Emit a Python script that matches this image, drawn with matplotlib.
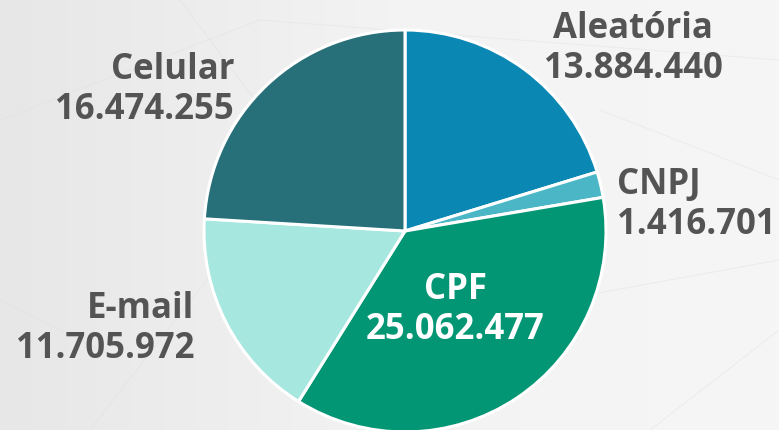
import numpy as np
import matplotlib.pyplot as plt
from matplotlib.colors import LinearSegmentedColormap

# data
labels = ['Aleatória', 'CNPJ', 'CPF', 'E-mail', 'Celular']
values = [13884440, 1416701, 25062477, 11705972, 16474255]
colors = ['#0a87b3', '#4bb7c6', '#039674', '#a6e7e0', '#276f79']

def fmt(v):
    return f"{v:,}".replace(',', '.')

plt.rcParams['font.family'] = ['Open Sans', 'DejaVu Sans']

W, H = 779, 430
fig = plt.figure(figsize=(W / 100, H / 100), dpi=100)

# background gradient
bg = fig.add_axes([0, 0, 1, 1])
grad = np.linspace(0, 1, 256).reshape(1, -1)
bg.imshow(grad, aspect='auto',
          cmap=LinearSegmentedColormap.from_list('bg', ['#e7e7e7', '#f3f3f3', '#f6f6f6']),
          extent=[0, W, H, 0])
# faint decorative lines
for (x0, y0, x1, y1) in [(0, 120, 260, 20), (260, 20, 779, 60), (90, 430, 230, 250),
                         (560, 300, 779, 260), (600, 110, 779, 180), (0, 300, 120, 360),
                         (650, 430, 779, 330), (180, 0, 300, 160)]:
    bg.plot([x0, x1], [y0, y1], color='#e0e0e0', lw=0.7, alpha=0.45)
bg.set_xlim(0, W)
bg.set_ylim(H, 0)
bg.axis('off')

# pie: centre (405, 231) px, radius 201 px
cx, cy, r = 405, 231, 201
ax = fig.add_axes([(cx - r) / W, (H - cy - r) / H, 2 * r / W, 2 * r / H])
ax.pie(values, colors=colors, startangle=90, counterclock=False, radius=1,
       wedgeprops=dict(edgecolor='white', linewidth=2.2))
ax.set_xlim(-1, 1)
ax.set_ylim(-1, 1)
ax.set_aspect('auto')
ax.axis('off')

def px(x, y):
    return (x - cx) / r, (cy - y) / r

# label placement (pixel anchor, alignment, colour)
spots = {
    'Aleatória': ((633, 29), 'center', '#545454'),
    'CNPJ': ((617, 185), 'left', '#545454'),
    'CPF': ((455, 290), 'center', 'white'),
    'E-mail': ((194, 309), 'right', '#545454'),
    'Celular': ((234, 70), 'right', '#545454'),
}
for lab, val in zip(labels, values):
    (x, y), ha, col = spots[lab]
    ax.text(*px(x, y), lab, ha=ha, va='center', fontsize=25, fontweight='bold',
            color=col, clip_on=False)
    ax.text(*px(x, y + 40), fmt(val), ha=ha, va='center', fontsize=25,
            fontweight='bold', color=col, clip_on=False)

fig.savefig('out.png', dpi=100)
